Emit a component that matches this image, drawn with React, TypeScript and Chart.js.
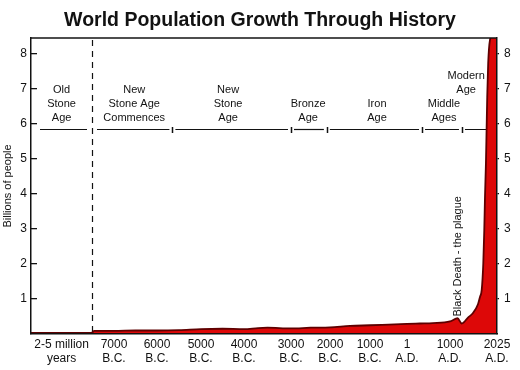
import React, { useEffect, useRef } from 'react';
import { Chart, registerables, LinearScale } from 'chart.js';

// ---------- data ----------
const tickYears = [-1500000, -7000, -6000, -5000, -4000, -3000, -2000, -1000, 1, 1000, 2025];
const tickLabels: string[][] = [
  ['2-5 million', 'years'],
  ['7000', 'B.C.'],
  ['6000', 'B.C.'],
  ['5000', 'B.C.'],
  ['4000', 'B.C.'],
  ['3000', 'B.C.'],
  ['2000', 'B.C.'],
  ['1000', 'B.C.'],
  ['1', 'A.D.'],
  ['1000', 'A.D.'],
  ['2025', 'A.D.'],
];

const populationYears = [
  -3000000, -100000, -8000, -7900, -7000, -6500, -6000, -5500, -5000, -4500, -4000, -3700, -3500,
  -3000, -2500, -2000, -1500, -1000, -500, 1, 300, 600, 1000, 1200, 1250, 1364, 1514, 1633, 1752,
  1800, 1857, 1907, 1932, 1950, 1956, 1960, 1964, 1970, 1981, 2025,
];
const populationBillions = [
  0.03, 0.03, 0.04, 0.09, 0.09, 0.1, 0.1, 0.11, 0.14, 0.15, 0.14, 0.17, 0.18,
  0.16, 0.18, 0.19, 0.23, 0.25, 0.27, 0.29, 0.3, 0.31, 0.36, 0.44, 0.45, 0.3, 0.47, 0.6, 0.85,
  1.06, 1.26, 2.03, 2.97, 3.91, 4.89, 5.83, 6.77, 7.74, 8.4, 8.8,
];

const yTickValues = [1, 2, 3, 4, 5, 6, 7, 8];

const eraNames: string[][] = [
  ['Old', 'Stone', 'Age'],
  ['New', 'Stone Age', 'Commences'],
  ['New', 'Stone', 'Age'],
  ['Bronze', 'Age'],
  ['Iron', 'Age'],
  ['Middle', 'Ages'],
  ['Modern', 'Age'],
];
const eraStartYears = [-3000000, -8000, -5650, -3000, -2080, 350, 1370];
const eraLabelYears = [-1500000, -6530, -4370, -2560, -810, 860, 1470];
const eraLabelBaseValues = [6.18, 6.18, 6.18, 6.18, 6.18, 6.18, 6.98];
const eraLineValue = 5.85;
const stoneAgeDividerYear = -8000;

const plagueLabel = 'Black Death - the plague';
const plagueYear = 1280;
const plagueValue = 0.5;

// ---------- schematic (piecewise) time scale ----------
// [year, fraction of axis length]
const AXIS_BREAKS: Array<[number, number]> = [
  [-3000000, 0],
  [-8000, 0.1309],
  [-7000, 0.1781],
  [-6000, 0.2704],
  [-5000, 0.3648],
  [-4000, 0.4571],
  [-3000, 0.5579],
  [-2000, 0.6416],
  [-1000, 0.7275],
  [1, 0.8069],
  [1000, 0.8991],
  [1300, 0.9185],
  [1800, 0.9635],
  [1900, 0.97],
  [1950, 0.9742],
  [2025, 1],
];

function yearToFraction(v: number): number {
  const b = AXIS_BREAKS;
  let i = 0;
  if (v <= b[0][0]) i = 0;
  else if (v >= b[b.length - 1][0]) i = b.length - 2;
  else {
    while (i < b.length - 2 && v > b[i + 1][0]) i++;
  }
  const [y0, f0] = b[i];
  const [y1, f1] = b[i + 1];
  return f0 + ((v - y0) / (y1 - y0)) * (f1 - f0);
}
function fractionToYear(f: number): number {
  const b = AXIS_BREAKS;
  let i = 0;
  if (f <= b[0][1]) i = 0;
  else if (f >= b[b.length - 1][1]) i = b.length - 2;
  else {
    while (i < b.length - 2 && f > b[i + 1][1]) i++;
  }
  const [y0, f0] = b[i];
  const [y1, f1] = b[i + 1];
  return y0 + ((f - f0) / (f1 - f0)) * (y1 - y0);
}

class SchematicTimeScale extends LinearScale {
  static id = 'schematicTime';
  static defaults = LinearScale.defaults;
  getPixelForValue(value: number) {
    if (value === null || value === undefined) return NaN;
    return this.getPixelForDecimal(yearToFraction(value));
  }
  getValueForPixel(pixel: number) {
    return fractionToYear(this.getDecimalForPixel(pixel));
  }
}

Chart.register(...registerables, SchematicTimeScale as any);

const INK = '#121212';
const FONT = 'Liberation Sans';

const erasPlugin = {
  id: 'eras',
  beforeDatasetsDraw(chart: any) {
    const { ctx, chartArea, scales } = chart;
    const xs = scales.x;
    const ys = scales.y;
    ctx.save();
    // dashed divider (start of New Stone Age)
    const dx = Math.round(xs.getPixelForValue(stoneAgeDividerYear)) + 0.5;
    ctx.strokeStyle = INK;
    ctx.lineWidth = 1.2;
    ctx.setLineDash([6, 5]);
    ctx.beginPath();
    ctx.moveTo(dx, chartArea.top + 2);
    ctx.lineTo(dx, chartArea.bottom);
    ctx.stroke();
    ctx.setLineDash([]);

    // era line with separators
    const ly = Math.round(ys.getPixelForValue(eraLineValue)) + 0.5;
    const n = eraStartYears.length;
    ctx.lineWidth = 1.2;
    for (let i = 0; i < n; i++) {
      const a = xs.getPixelForValue(eraStartYears[i]);
      const b = i + 1 < n ? xs.getPixelForValue(eraStartYears[i + 1]) : chartArea.right;
      const x1 = i === 0 ? a + 9 : a + (eraStartYears[i] === stoneAgeDividerYear ? 5 : 3);
      const x2 = i + 1 < n ? b - (eraStartYears[i + 1] === stoneAgeDividerYear ? 5 : 3) : b;
      ctx.beginPath();
      ctx.moveTo(x1, ly);
      ctx.lineTo(x2, ly);
      ctx.stroke();
      if (i > 0 && eraStartYears[i] !== stoneAgeDividerYear) {
        ctx.beginPath();
        ctx.lineWidth = 1.5;
        ctx.moveTo(Math.round(a) + 0.5, ly - 2.5);
        ctx.lineTo(Math.round(a) + 0.5, ly + 3.5);
        ctx.stroke();
        ctx.lineWidth = 1.2;
      }
    }

    // era labels
    ctx.fillStyle = INK;
    ctx.font = `11px "${FONT}"`;
    ctx.textAlign = 'center';
    ctx.textBaseline = 'middle';
    for (let i = 0; i < n; i++) {
      const lines = eraNames[i];
      const cx = xs.getPixelForValue(eraLabelYears[i]);
      for (let j = 0; j < lines.length; j++) {
        const v = eraLabelBaseValues[i] + (lines.length - 1 - j) * 0.4;
        ctx.fillText(lines[j], cx, ys.getPixelForValue(v));
      }
    }
    ctx.restore();
  },
  afterDatasetsDraw(chart: any) {
    const { ctx, chartArea, scales } = chart;
    ctx.save();
    // top frame line
    ctx.strokeStyle = INK;
    ctx.lineWidth = 1.5;
    ctx.beginPath();
    ctx.moveTo(chartArea.left, chartArea.top);
    ctx.lineTo(chartArea.right, chartArea.top);
    ctx.stroke();
    // plague annotation
    const px = scales.x.getPixelForValue(plagueYear);
    const py = scales.y.getPixelForValue(plagueValue);
    ctx.translate(px, py);
    ctx.rotate(-Math.PI / 2);
    ctx.fillStyle = INK;
    ctx.font = `11px "${FONT}"`;
    ctx.textAlign = 'left';
    ctx.textBaseline = 'middle';
    ctx.fillText(plagueLabel, 0, 0);
    ctx.restore();
  },
};

export default function App() {
  const ref = useRef<HTMLCanvasElement>(null);
  useEffect(() => {
    const data = populationYears.map((x, i) => ({ x, y: populationBillions[i] }));
    const chart = new Chart(ref.current as HTMLCanvasElement, {
      type: 'line',
      data: {
        datasets: [
          {
            data,
            yAxisID: 'y',
            xAxisID: 'x',
            fill: 'origin',
            backgroundColor: '#dd0808',
            borderColor: '#5e0000',
            borderWidth: 1.8,
            pointRadius: 0,
            cubicInterpolationMode: 'monotone',
            clip: 0,
          } as any,
        ],
      },
      options: {
        responsive: false,
        devicePixelRatio: 1,
        animation: false,
        layout: { padding: 0 },
        plugins: {
          legend: { display: false },
          tooltip: { enabled: false },
          title: {
            display: true,
            text: 'World Population Growth Through History',
            color: INK,
            font: { family: FONT, size: 19.5, weight: 'bold' },
            padding: { top: 8.6, bottom: 6 },
          },
        },
        scales: {
          x: {
            type: 'schematicTime' as any,
            position: 'bottom',
            min: -3000000,
            max: 2025,
            afterBuildTicks: (scale: any) => {
              scale.ticks = tickYears.map((value) => ({ value }));
            },
            afterFit: (scale: any) => {
              scale.height = 36;
            },
            grid: { display: false, drawTicks: false },
            border: { display: true, color: INK, width: 1.5, z: 1 },
            ticks: {
              autoSkip: false,
              maxRotation: 0,
              minRotation: 0,
              padding: 3,
              color: INK,
              font: { family: FONT, size: 12, lineHeight: 1.2 },
              callback: (_v: any, i: number) => tickLabels[i],
            },
          } as any,
          y: {
            type: 'linear',
            position: 'left',
            min: 0,
            max: 8.46,
            afterBuildTicks: (scale: any) => {
              scale.ticks = yTickValues.map((value) => ({ value }));
            },
            afterFit: (scale: any) => {
              scale.width = 31;
            },
            grid: {
              display: true,
              drawOnChartArea: false,
              drawTicks: true,
              tickLength: -6,
              color: INK,
              lineWidth: 1.3,
            },
            border: { display: true, color: INK, width: 1.5, z: 1 },
            ticks: {
              padding: 10,
              color: INK,
              font: { family: FONT, size: 12 },
              callback: (v: any) => String(v),
            },
            title: {
              display: true,
              text: 'Billions of people',
              color: INK,
              font: { family: FONT, size: 11 },
              padding: { top: 1.5, bottom: 0 },
            },
          },
          yRight: {
            type: 'linear',
            position: 'right',
            min: 0,
            max: 8.46,
            afterBuildTicks: (scale: any) => {
              scale.ticks = yTickValues.map((value) => ({ value }));
            },
            afterFit: (scale: any) => {
              scale.width = 23;
            },
            grid: {
              display: true,
              drawOnChartArea: false,
              drawTicks: true,
              tickLength: 2,
              color: INK,
              lineWidth: 1.3,
            },
            border: { display: true, color: INK, width: 1.5, z: 1 },
            ticks: {
              padding: 5,
              color: INK,
              font: { family: FONT, size: 12 },
              callback: (v: any) => String(v),
            },
          },
        },
      } as any,
      plugins: [erasPlugin],
    });
    return () => chart.destroy();
  }, []);

  return (
    <div style={{ position: 'fixed', left: 0, top: 0, width: 520, height: 370, background: '#fff' }}>
      <canvas ref={ref} width={520} height={370} style={{ display: 'block' }} />
    </div>
  );
}
